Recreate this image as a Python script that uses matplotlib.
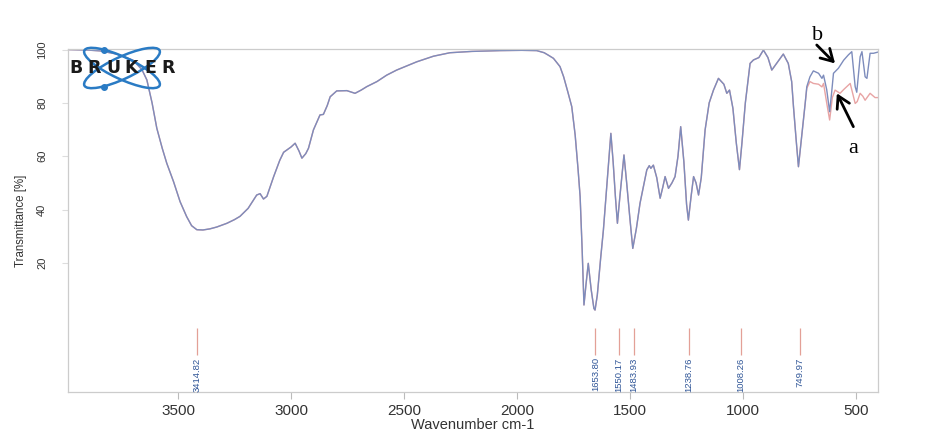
import matplotlib.pyplot as plt
from matplotlib.patches import Ellipse

# trace b (upper, blue) - wavenumber / transmittance
wn_b = [3992, 3900, 3845, 3771, 3699, 3660, 3638, 3615, 3594, 3570, 3550, 3520,
        3491, 3462, 3440, 3417, 3390, 3360, 3329, 3284, 3250, 3226, 3190, 3152,
        3137, 3122, 3107, 3077, 3050, 3033, 3000, 2982, 2965, 2952, 2935, 2923,
        2901, 2872, 2857, 2840, 2827, 2798, 2753, 2717, 2690, 2665, 2620, 2577,
        2533, 2444, 2370, 2297, 2200, 2075, 1980, 1913, 1880, 1860, 1839, 1810,
        1794, 1775, 1758, 1743, 1730, 1721, 1712, 1704, 1695, 1685, 1672, 1660,
        1655, 1645, 1630, 1618, 1600, 1585, 1575, 1565, 1556, 1545, 1527, 1515,
        1500, 1488, 1472, 1456, 1440, 1426, 1415, 1408, 1397, 1382, 1367, 1355,
        1345, 1330, 1315, 1301, 1288, 1276, 1262, 1250, 1242, 1230, 1219, 1208,
        1197, 1185, 1168, 1150, 1131, 1109, 1085, 1072, 1060, 1045, 1030, 1016,
        1005, 990, 969, 954, 930, 910, 890, 873, 850, 822, 800, 785, 777, 765,
        755, 740, 725, 718, 704, 689, 666, 651, 644, 630, 617, 608, 600, 578,
        555, 534, 519, 504, 497, 482, 474, 460, 452, 438, 423, 405]
t_b = [100.0, 99.8, 99.5, 98.3, 96.0, 92.5, 88.6, 80.0, 70.5, 63.0, 57.4, 50.5,
       43.0, 37.4, 34.0, 32.5, 32.4, 32.8, 33.5, 34.9, 36.3, 37.5, 40.5, 45.5,
       46.0, 44.0, 45.0, 52.4, 58.5, 61.5, 63.5, 64.9, 62.0, 59.3, 61.0, 63.0,
       69.9, 75.5, 75.7, 79.0, 82.3, 84.5, 84.6, 83.6, 84.8, 86.1, 88.0, 90.4,
       92.3, 95.4, 97.5, 98.8, 99.3, 99.6, 99.7, 99.6, 98.8, 97.8, 96.7, 93.6,
       89.8, 84.0, 78.6, 68.0, 55.0, 44.9, 25.0, 4.3, 12.0, 19.9, 10.0, 3.0,
       2.4, 8.0, 22.0, 32.4, 52.0, 68.6, 58.0, 45.0, 34.9, 45.0, 60.5, 50.0,
       36.0, 25.5, 33.0, 42.4, 49.0, 54.9, 56.5, 55.5, 56.7, 52.0, 44.3, 48.5,
       52.4, 48.0, 50.0, 52.4, 60.0, 71.1, 58.0, 42.0, 36.1, 45.0, 52.4, 50.0,
       45.5, 52.0, 69.9, 80.0, 84.8, 89.2, 87.0, 83.6, 84.8, 78.0, 65.0, 55.0,
       65.0, 80.0, 94.8, 96.1, 97.0, 99.8, 97.0, 92.3, 95.0, 98.3, 94.8, 88.0,
       78.6, 66.0, 56.1, 68.0, 80.0, 86.1, 89.8, 92.0, 91.1, 89.2, 90.4, 85.0,
       76.7, 84.0, 91.1, 93.0, 96.0, 98.0, 99.2, 86.1, 84.0, 97.3, 99.2, 89.8,
       89.2, 98.6, 98.6, 99.0]

# trace a (red) - same as b above 720 cm-1, lower in the fingerprint end
wn_a_tail = [718, 704, 689, 666, 651, 644, 630, 617, 605, 593, 571, 555, 541,
             526, 504, 495, 482, 470, 460, 438, 416, 405]
t_a_tail = [85.5, 88.0, 87.3, 87.0, 86.0, 87.3, 80.0, 73.6, 82.0, 84.8, 83.6,
            85.0, 86.1, 87.3, 79.8, 80.5, 83.6, 82.5, 81.0, 83.6, 82.0, 82.0]

peaks = [3414.82, 1653.80, 1550.17, 1483.93, 1238.76, 1008.26, 749.97]

wn_a = [w for w in wn_b if w > 720] + wn_a_tail
t_a = [t for w, t in zip(wn_b, t_b) if w > 720] + t_a_tail

plt.rcParams['font.family'] = ['Liberation Sans', 'DejaVu Sans']

fig = plt.figure(figsize=(9.28, 4.32), dpi=100)
ax = fig.add_axes([68 / 928, 40 / 432, 810 / 928, 343 / 432])

ax.plot(wn_a, t_a, color='#e8a4a4', lw=1.0)
ax.plot(wn_b, t_b, color='#7d8cbc', lw=1.0)

# peak picks
ax.vlines(peaks, -14.4, -4.3, color='#e3a097', lw=0.9)
for p in peaks:
    ax.text(p, -15.3, f'{p:.2f}', rotation=90, ha='center', va='top',
            fontsize=6.8, color='#2f5597')

ax.set_xlim(3987, 403)
ax.set_ylim(-28.3, 100.2)
ax.set_xticks([3500, 3000, 2500, 2000, 1500, 1000, 500])
ax.set_yticks([20, 40, 60, 80, 100])
for lbl in ax.get_yticklabels():
    lbl.set_rotation(90)
    lbl.set_va('center')
ax.tick_params(axis='x', length=5, width=0.8, color='#bbbbbb', labelsize=11,
               labelcolor='#333333', pad=3.5)
ax.tick_params(axis='y', length=4, width=0.8, color='#dddddd', labelsize=8,
               labelcolor='#333333', pad=11)
for s in ax.spines.values():
    s.set_color('#cccccc')
    s.set_linewidth(0.9)

ax.set_xlabel('Wavenumber cm-1', fontsize=10.5, color='#333333', labelpad=0)
ax.set_ylabel('Transmittance [%]', fontsize=8.3, color='#333333', labelpad=7)

# a / b markers
arrow = dict(arrowstyle='->,head_length=0.6,head_width=0.35', lw=2,
             color='black', mutation_scale=14, shrinkA=0, shrinkB=0)
ax.annotate('', xy=(593, 94.8), xytext=(674, 101.7), arrowprops=arrow,
            annotation_clip=False)
ax.annotate('', xy=(585, 83.6), xytext=(512, 71.1), arrowprops=arrow,
            annotation_clip=False)
ax.text(671, 105.4, 'b', fontsize=16, family='Liberation Serif',
        ha='center', va='center', clip_on=False)
ax.text(512, 63.0, 'a', fontsize=16, family='Liberation Serif',
        ha='center', va='center', clip_on=False)

# logo
lg = fig.add_axes([67 / 928, (432 - 92) / 432, 111 / 928, 47 / 432])
lg.set_xlim(0, 111)
lg.set_ylim(47, 0)
lg.axis('off')
lg.patch.set_alpha(0)
for ang in (25, -25):
    lg.add_patch(Ellipse((55, 23), 83, 22, angle=ang, fill=False,
                         ec='#2a7bc4', lw=1.8))
lg.plot([37, 37], [5, 42], 'o', color='#2a7bc4', ms=4)
for i, ch in enumerate('BRUKER'):
    lg.text(9 + i * 18.5, 23, ch, fontsize=12.5, fontweight='bold',
            family='DejaVu Sans', color='#1a1a1a', ha='center', va='center')

fig.savefig('out.png', dpi=100)
